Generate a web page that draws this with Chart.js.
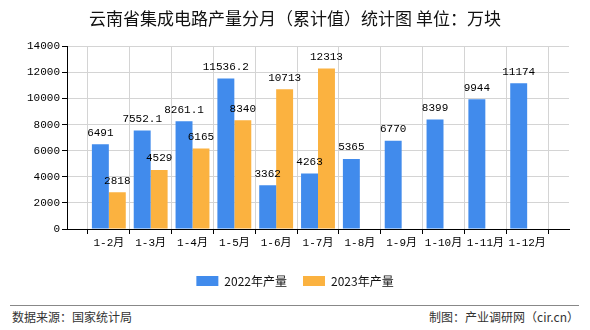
<!DOCTYPE html>
<html>
<head>
<meta charset="utf-8">
<script src="https://cdn.jsdelivr.net/npm/chart.js@4/dist/chart.umd.min.js"></script>
<style>
  body { margin: 0; background: #fff; }
  #wrap { position: relative; width: 590px; height: 330px; overflow: hidden; }
  #box { position: absolute; left: 0; top: 0; width: 590px; height: 297px; }
  #line { position: absolute; left: 10px; top: 305px; width: 569px; height: 0; border-top: 1px solid #888; }
  .foot { position: absolute; top: 308px; font: 12px "Noto Sans CJK SC", sans-serif; color: #333; }
</style>
</head>
<body>
<div id="wrap">
  <div id="box"><canvas id="chart"></canvas></div>
  <div id="line"></div>
  <div class="foot" style="left:12px">数据来源：国家统计局</div>
  <div class="foot" style="right:11px">制图：产业调研网（cir.cn）</div>
</div>
<script>
// 월별 누계 (만 개)
const months = ['1-2月', '1-3月', '1-4月', '1-5月', '1-6月', '1-7月', '1-8月', '1-9月', '1-10月', '1-11月', '1-12月'];
const output2022 = [6491, 7552.1, 8261.1, 11536.2, 3362, 4263, 5365, 6770, 8399, 9944, 11174];
const output2023 = [2818, 4529, 6165, 8340, 10713, 12313];
const seriesNames = ['2022年产量', '2023年产量'];
const yMax = 14000;
const yStep = 2000;

// 축 양끝에 빈 칸을 둔다
const labels = [''].concat(months, ['']);
function pad(values) {
    const out = [null];
    months.forEach((m, i) => out.push(values[i] === undefined ? null : values[i]));
    out.push(null);
    return out;
}

const monoFont = '"Liberation Mono", "Noto Sans CJK SC", monospace';

// 막대 위 값 표시
const valueLabels = {
    id: 'valueLabels',
    afterDatasetsDraw(chart) {
        const ctx = chart.ctx;
        ctx.save();
        ctx.font = '11px ' + monoFont;
        ctx.fillStyle = '#000';
        ctx.textAlign = 'center';
        ctx.textBaseline = 'bottom';
        chart.data.datasets.forEach((ds, di) => {
            chart.getDatasetMeta(di).data.forEach((bar, i) => {
                const v = ds.data[i];
                if (v === null) return;
                ctx.fillText(String(v), bar.x, bar.y - 6);
            });
        });
        ctx.restore();
    }
};

const ctx = document.getElementById('chart').getContext('2d');
new Chart(ctx, {
    type: 'bar',
    data: {
        labels: labels,
        datasets: [
            { label: seriesNames[0], data: pad(output2022), backgroundColor: '#418bec' },
            { label: seriesNames[1], data: pad(output2023), backgroundColor: '#fbb240' }
        ]
    },
    options: {
        responsive: true,
        maintainAspectRatio: false,
        animation: false,
        datasets: { bar: { categoryPercentage: 0.81, barPercentage: 1 } },
        layout: { padding: { left: 21, right: 21, bottom: 0 } },
        plugins: {
            title: {
                display: true,
                text: '云南省集成电路产量分月（累计值）统计图 单位：万块',
                color: '#111',
                font: { size: 17, family: '"Noto Sans CJK SC"', weight: 'normal' },
                padding: { top: 8, bottom: 18 }
            },
            legend: {
                position: 'bottom',
                labels: {
                    boxWidth: 22,
                    boxHeight: 10,
                    color: '#111',
                    font: { size: 12, family: '"Noto Sans CJK SC"' },
                    padding: 16
                }
            },
            tooltip: { enabled: false }
        },
        scales: {
            x: {
                offset: false,
                afterFit(scale) { scale.height = 30; },
                grid: { color: '#d4d4d4', tickColor: '#000', tickLength: 5 },
                border: { color: '#000' },
                ticks: { color: '#000', font: { size: 11, family: monoFont }, maxRotation: 0, autoSkip: false, padding: 2 }
            },
            y: {
                min: 0,
                max: yMax,
                afterFit(scale) { scale.width = 46; },
                grid: { color: '#d4d4d4', tickColor: '#000', tickLength: 5 },
                border: { color: '#000' },
                ticks: {
                    stepSize: yStep,
                    color: '#000',
                    font: { size: 11, family: monoFont },
                    padding: 2,
                    callback: v => String(v)
                }
            }
        }
    },
    plugins: [valueLabels]
});
</script>
</body>
</html>
